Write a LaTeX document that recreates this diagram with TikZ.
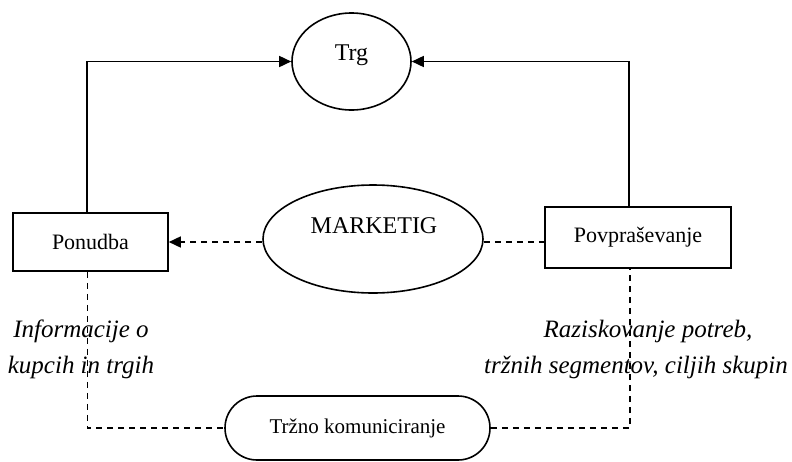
\documentclass[tikz,border=0pt]{standalone}
\usepackage{fontspec}
\setmainfont{Liberation Serif}
\usetikzlibrary{shapes.geometric,shapes.misc,arrows.meta}
\begin{document}
\begin{tikzpicture}[x=1pt,y=-1pt,
  line width=1.6pt,
  boxnode/.style={draw, rectangle, inner sep=0pt, font=\fontsize{22}{26}\selectfont},
  ellnode/.style={draw, ellipse, inner sep=0pt},
  lbl/.style={font=\fontsize{24}{28}\selectfont, anchor=base, inner sep=0pt},
  dsh/.style={dash pattern=on 6pt off 5pt},
  tip/.style={-{Triangle[length=12pt,width=11pt]}},
  note/.style={font=\fontsize{25}{36}\itshape\selectfont, align=center, inner sep=0pt}]
\useasboundingbox (0,0) rectangle (792,461);

\node[ellnode, minimum width=119pt, minimum height=97pt] (trg) at (351.5,61.5) {};
\node[lbl] (trgt) at (351.5,60) {Trg};
\node[boxnode, minimum width=155pt, minimum height=58pt] (pon) at (90.5,242) {Ponudba};
\node[boxnode, minimum width=186pt, minimum height=61pt] (pov) at (638,237.5) {Povpraševanje};
\node[ellnode, minimum width=220pt, minimum height=108pt] (mkt) at (373,239) {};
\node[lbl] (mktt) at (374,233) {MARKETIG};
\node[draw, rounded rectangle, minimum width=265pt, minimum height=64pt, inner sep=0pt,
  font=\fontsize{21}{25}\selectfont] (trz) at (357.5,428) {Tržno komuniciranje};

\node[note] (n1) at (81,349) {Informacije o\\kupcih in trgih};
\node[note] (n2) at (636,349) {\hspace*{24pt}Raziskovanje potreb,\\tržnih segmentov, ciljih skupin};

\draw[tip] ([xshift=-3.5pt]pon.north) |- (trg.west);
\draw[tip] ([xshift=-9pt]pov.north) |- (trg.east);

\draw[dsh, tip] ([yshift=-3pt]mkt.west) -- ([yshift=-3pt]mkt.west -| pon.east);
\draw[dsh] ([yshift=-3pt]mkt.east) -- ([yshift=-3pt]mkt.east -| pov.west);
\draw[dsh] ([xshift=-3pt]pon.south) |- (trz.west);
\draw[dsh] (trz.east) -| ([xshift=-8pt]pov.south);
\end{tikzpicture}
\end{document}
